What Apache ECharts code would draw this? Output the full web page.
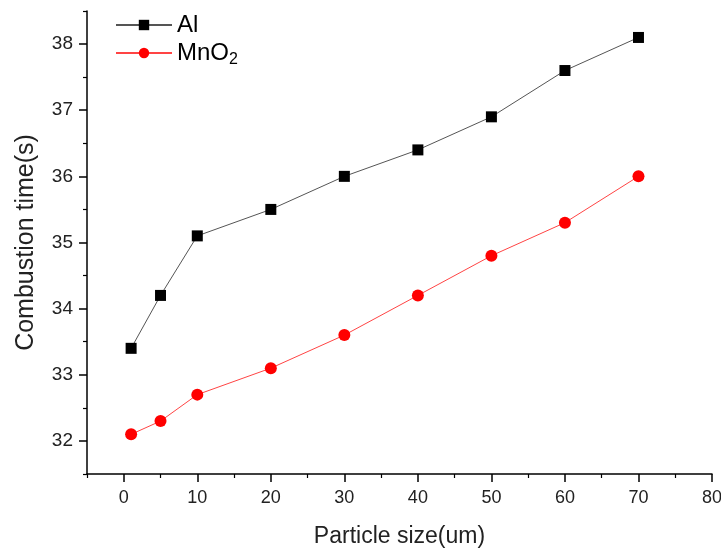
<!DOCTYPE html>
<html><head><meta charset="utf-8">
<script src="https://cdn.jsdelivr.net/npm/echarts@6/dist/echarts.min.js"></script>
<style>html,body{margin:0;padding:0;background:#fff}#c{width:721px;height:550px}</style>
</head><body><div id="c"></div>
<script>
const particleSize = [1, 5, 10, 20, 30, 40, 50, 60, 70];
const alTime = [33.4, 34.2, 35.1, 35.5, 36.0, 36.4, 36.9, 37.6, 38.1];
const mno2Time = [32.1, 32.3, 32.7, 33.1, 33.6, 34.2, 34.8, 35.3, 36.0];
const xMajorTicks = [0, 10, 20, 30, 40, 50, 60, 70, 80];
const xMinorTicks = [-5, 5, 15, 25, 35, 45, 55, 65, 75];
const yMajorTicks = [32, 33, 34, 35, 36, 37, 38];
const yMinorTicks = [31.5, 32.5, 33.5, 34.5, 35.5, 36.5, 37.5, 38.5];

const font = 'Liberation Sans, Arial, sans-serif';
const chart = echarts.init(document.getElementById('c'));
const axisColor = '#000';
const baseX = {type:'value', min:-5, max:80, gridIndex:0};
const baseY = {type:'value', min:31.5, max:38.5, gridIndex:0};
chart.setOption({
  animation:false,
  backgroundColor:'#fff',
  grid:{left:87, right:9, top:11, bottom:76, containLabel:false, outerBoundsMode:'none'},
  legend:{
    left:110, top:8, orient:'vertical', itemWidth:56, itemHeight:13, itemGap:4,
    textStyle:{fontFamily:font, fontSize:24, color:'#000',
      rich:{n:{fontFamily:font, fontSize:24, color:'#000'}, s:{fontFamily:font, fontSize:16, color:'#000', padding:[14,0,0,0]}}},
    formatter: function(name){ return name === 'MnO2' ? '{n|MnO}{s|2}' : name; },
    data:['Al','MnO2']
  },
  xAxis:[
    Object.assign({}, baseX, {
      name:'Particle size(um)', nameLocation:'middle', nameGap:51,
      nameTextStyle:{fontFamily:font, fontSize:23, color:'#222'},
      axisLine:{show:true, onZero:false, lineStyle:{color:axisColor, width:1.5}},
      axisTick:{show:true, inside:false, length:8, customValues:xMajorTicks, lineStyle:{color:axisColor, width:1.5}},
      axisLabel:{show:true, customValues:xMajorTicks, fontFamily:font, fontSize:18, color:'#222', margin:15},
      splitLine:{show:false}
    }),
    Object.assign({}, baseX, {
      position:'bottom',
      axisLine:{show:false, onZero:false},
      axisTick:{show:true, inside:false, length:4, customValues:xMinorTicks, lineStyle:{color:axisColor, width:1.2}},
      axisLabel:{show:false},
      splitLine:{show:false}
    })
  ],
  yAxis:[
    Object.assign({}, baseY, {
      name:'Combustion time(s)', nameLocation:'middle', nameGap:48, nameRotate:90,
      nameTextStyle:{fontFamily:font, fontSize:25, color:'#222'},
      axisLine:{show:true, onZero:false, lineStyle:{color:axisColor, width:1.5}},
      axisTick:{show:true, inside:false, length:8, customValues:yMajorTicks, lineStyle:{color:axisColor, width:1.5}},
      axisLabel:{show:true, customValues:yMajorTicks, fontFamily:font, fontSize:19, color:'#222', margin:14},
      splitLine:{show:false}
    }),
    Object.assign({}, baseY, {
      position:'left',
      axisLine:{show:false, onZero:false},
      axisTick:{show:true, inside:false, length:4, customValues:yMinorTicks, lineStyle:{color:axisColor, width:1.2}},
      axisLabel:{show:false},
      splitLine:{show:false}
    })
  ],
  series:[
    {name:'Al', type:'line', xAxisIndex:0, yAxisIndex:0,
      data: particleSize.map((x,i)=>[x, alTime[i]]),
      symbol:'rect', symbolSize:11,
      itemStyle:{color:'#000'}, lineStyle:{color:'#555', width:1}},
    {name:'MnO2', type:'line', xAxisIndex:0, yAxisIndex:0,
      data: particleSize.map((x,i)=>[x, mno2Time[i]]),
      symbol:'circle', symbolSize:12,
      itemStyle:{color:'#f00'}, lineStyle:{color:'#f44', width:1}}
  ]
});
</script></body></html>
